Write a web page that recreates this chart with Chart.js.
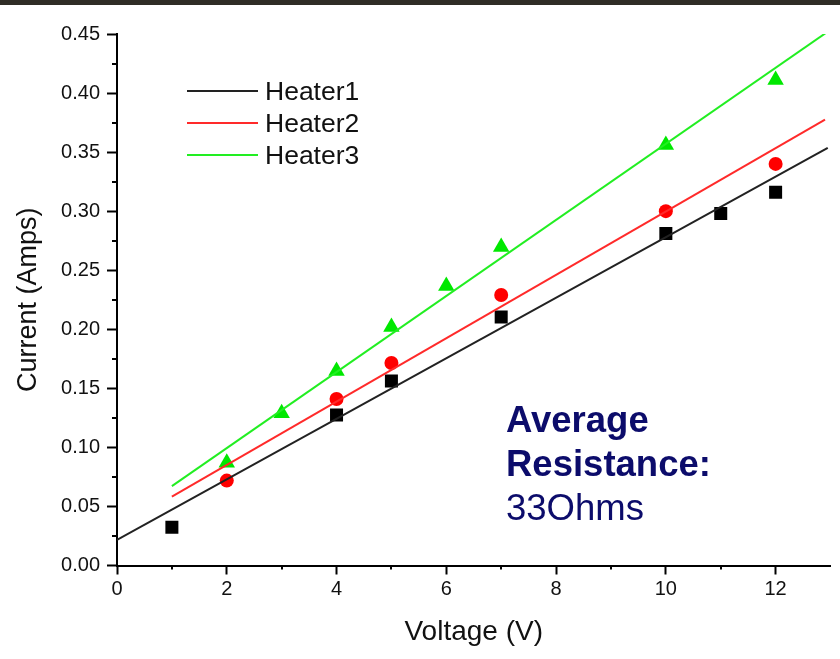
<!DOCTYPE html>
<html>
<head>
<meta charset="utf-8">
<script src="https://cdn.jsdelivr.net/npm/chart.js@4/dist/chart.umd.min.js"></script>
<style>
  html, body { margin: 0; padding: 0; background: #fff; }
  #wrap { position: relative; width: 840px; height: 659px; overflow: hidden; }
  #topbar { position: absolute; left: 0; top: 0; width: 840px; height: 5px; background: #2f2d26; }
  #legend { position: absolute; left: 187px; top: 75px; font-family: "Liberation Sans", Arial, sans-serif; font-size: 26.5px; color: #111; }
  .row { display: flex; align-items: center; height: 32px; }
  .swatch { width: 71px; height: 2px; margin-right: 7px; }
  #note { position: absolute; left: 506px; top: 398px; font-family: "Liberation Sans", Arial, sans-serif; font-size: 36.5px; line-height: 44px; color: #0c0c6b; }
  #note b { font-weight: bold; }
</style>
</head>
<body>
<div id="wrap">
  <canvas id="c" width="840" height="659"></canvas>
  <div id="topbar"></div>
  <div id="legend"></div>
  <div id="note"><b>Average<br>Resistance:</b><br>33Ohms</div>
</div>
<script>
// ---- data ----
const seriesNames = ['Heater1', 'Heater2', 'Heater3'];
const seriesColors = ['#000000', '#ff0000', '#00e800'];
const lineColors = ['#222222', '#ff2a2a', '#22ee22'];

const voltage1 = [1, 4, 5, 7, 10, 11, 12];
const current1 = [0.0324, 0.1274, 0.1562, 0.2104, 0.281, 0.298, 0.316];
const voltage2 = [2, 4, 5, 7, 10, 12];
const current2 = [0.0719, 0.141, 0.1715, 0.229, 0.300, 0.340];
const voltage3 = [2, 3, 4, 5, 6, 7, 10, 12];
const current3 = [0.0871, 0.129, 0.1647, 0.2019, 0.2367, 0.2697, 0.356, 0.411];

// linear fit end points
const fitVoltage1 = [0, 12.95];
const fitCurrent1 = [0.0216, 0.3535];
const fitVoltage2 = [1, 12.9];
const fitCurrent2 = [0.0583, 0.3776];
const fitVoltage3 = [1, 13];
const fitCurrent3 = [0.0672, 0.4536];

const xTickValues = [0, 2, 4, 6, 8, 10, 12];
const yTickLabels = ['0.00','0.05','0.10','0.15','0.20','0.25','0.30','0.35','0.40','0.45'];

const pts = (xs, ys) => xs.map((x, i) => ({ x: x, y: ys[i] }));

const font = '"Liberation Sans", Arial, sans-serif';

const minorTicks = {
  id: 'minorTicks',
  afterDraw(chart) {
    const ctx = chart.ctx;
    const xs = chart.scales.x, ys = chart.scales.y;
    ctx.save();
    ctx.strokeStyle = '#000';
    ctx.lineWidth = 2;
    ctx.beginPath();
    for (let v = 0.025; v < 0.45; v += 0.05) {
      const py = Math.round(ys.getPixelForValue(v));
      ctx.moveTo(xs.left, py);
      ctx.lineTo(xs.left - 5, py);
    }
    for (let v = 1; v <= 11; v += 2) {
      const px = Math.round(xs.getPixelForValue(v));
      ctx.moveTo(px, ys.bottom);
      ctx.lineTo(px, ys.bottom + 4);
    }
    ctx.stroke();
    ctx.restore();
  }
};

new Chart(document.getElementById('c'), {
  type: 'scatter',
  data: {
    datasets: [
      { label: seriesNames[0] + ' fit', type: 'line', data: pts(fitVoltage1, fitCurrent1), borderColor: lineColors[0], borderWidth: 2, pointRadius: 0, fill: false },
      { label: seriesNames[1] + ' fit', type: 'line', data: pts(fitVoltage2, fitCurrent2), borderColor: lineColors[1], borderWidth: 2, pointRadius: 0, fill: false },
      { label: seriesNames[2] + ' fit', type: 'line', data: pts(fitVoltage3, fitCurrent3), borderColor: lineColors[2], borderWidth: 2, pointRadius: 0, fill: false },
      { label: seriesNames[0], data: pts(voltage1, current1), pointStyle: 'rect', pointRadius: 9.2, backgroundColor: seriesColors[0], borderColor: seriesColors[0], borderWidth: 0 },
      { label: seriesNames[1], data: pts(voltage2, current2), pointStyle: 'circle', pointRadius: 7, backgroundColor: seriesColors[1], borderColor: seriesColors[1], borderWidth: 0 },
      { label: seriesNames[2], data: pts(voltage3, current3), pointStyle: 'triangle', pointRadius: 9.5, backgroundColor: seriesColors[2], borderColor: seriesColors[2], borderWidth: 0 }
    ]
  },
  options: {
    responsive: false,
    animation: false,
    layout: { padding: { top: 34, right: 9, left: 0, bottom: 0 } },
    plugins: { legend: { display: false }, tooltip: { enabled: false } },
    scales: {
      x: {
        type: 'linear', min: 0, max: 13,
        afterFit(s) { s.height = 93.5; },
        afterBuildTicks(s) { s.ticks = xTickValues.map(v => ({ value: v })); },
        ticks: { color: '#111', font: { family: font, size: 20 }, padding: 3, callback: v => String(v) },
        grid: { drawOnChartArea: false, drawTicks: true, tickLength: 9, tickWidth: 2, tickColor: '#000' },
        border: { display: true, color: '#000', width: 2 },
        title: { display: true, text: 'Voltage (V)', color: '#111', font: { family: font, size: 28 }, padding: { top: 0, bottom: 10 } }
      },
      y: {
        type: 'linear', min: 0, max: 0.45,
        afterFit(s) { s.width = 117; },
        afterBuildTicks(s) { s.ticks = yTickLabels.map(t => ({ value: parseFloat(t) })); },
        ticks: { color: '#111', font: { family: font, size: 20 }, padding: 7, callback: (v, i) => yTickLabels[i] },
        grid: { drawOnChartArea: false, drawTicks: true, tickLength: 10, tickWidth: 2, tickColor: '#000' },
        border: { display: true, color: '#000', width: 2 },
        title: { display: true, text: 'Current (Amps)', color: '#111', font: { family: font, size: 27 }, padding: { top: 12, bottom: 0 } }
      }
    }
  },
  plugins: [minorTicks]
});

// legend built from the series arrays
const lg = document.getElementById('legend');
seriesNames.forEach((n, i) => {
  const r = document.createElement('div'); r.className = 'row';
  const s = document.createElement('div'); s.className = 'swatch'; s.style.background = lineColors[i];
  const t = document.createElement('span'); t.textContent = n;
  r.appendChild(s); r.appendChild(t); lg.appendChild(r);
});
</script>
</body>
</html>
